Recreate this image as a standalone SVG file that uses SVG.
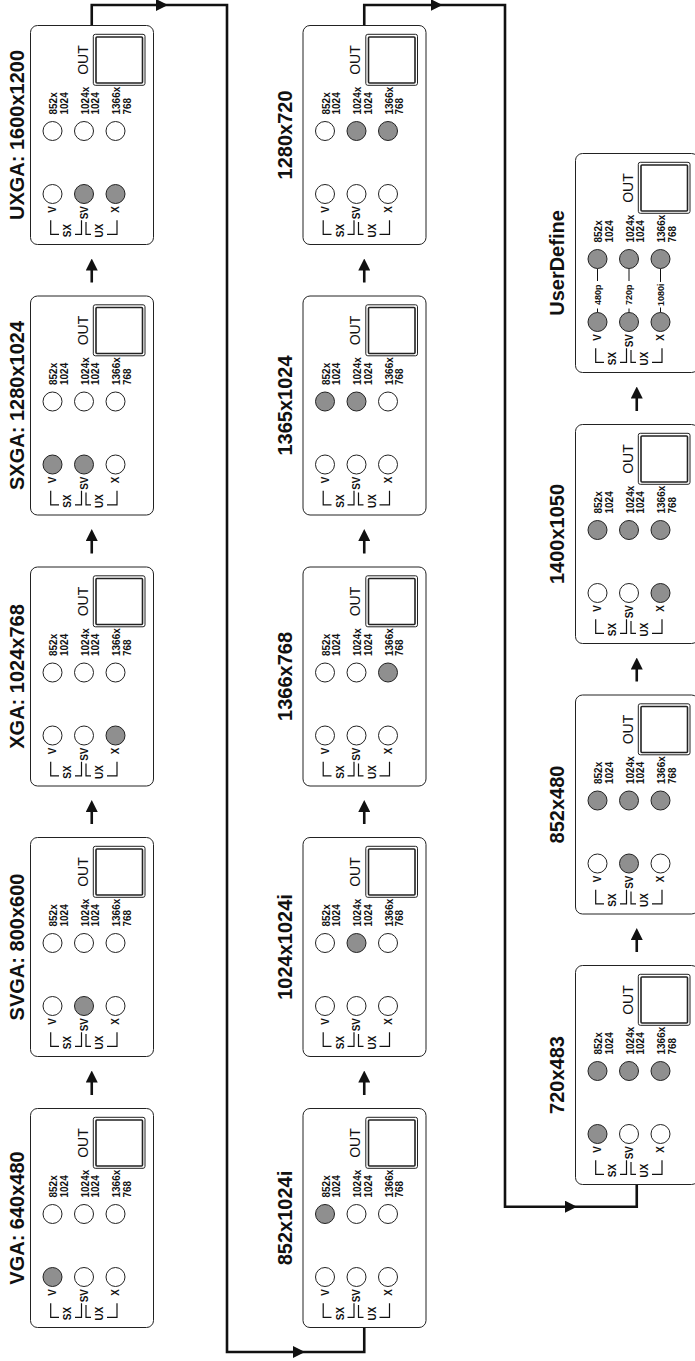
<svg xmlns="http://www.w3.org/2000/svg" width="695" height="1361" viewBox="0 0 695 1361">
<style>
text{font-family:"Liberation Sans",Arial,sans-serif;fill:#111}
.title{font-size:20px;font-weight:bold;text-anchor:middle}
.res{font-size:10px;font-weight:bold}
.in{font-size:10px;font-weight:bold;text-anchor:end}
.grp{font-size:10px;font-weight:bold;text-anchor:middle}
.ud{font-size:9px;font-weight:bold;text-anchor:middle}
.out{font-size:14px;text-anchor:middle}
.box{fill:#fff;stroke:#222;stroke-width:1}
.oo{fill:none;stroke:#222;stroke-width:1}
.oi{fill:#fff;stroke:#222;stroke-width:1.6}
.br{fill:none;stroke:#111;stroke-width:1.2}
.off{fill:#fff;stroke:#222;stroke-width:1}
.on{fill:#8f8f8f;stroke:#222;stroke-width:1}
.ln{fill:none;stroke:#111;stroke-width:1}
.con{fill:none;stroke:#111;stroke-width:2.6}
</style>
<defs>
<marker id="ah" viewBox="0 0 12 12" refX="2" refY="6" markerWidth="12" markerHeight="12" markerUnits="userSpaceOnUse" orient="auto">
<path d="M0,0 L12,6 L0,12 z" fill="#111"/>
</marker>
<g id="panel">
<rect class="box" x="0.5" y="0.5" width="123" height="219" rx="7"/>
<rect class="oo" x="63.3" y="9.3" width="51.7" height="51" rx="2"/>
<rect class="oi" x="66" y="12" width="46.5" height="46" rx="1"/>
<text class="out" transform="translate(57.5,35) rotate(-90)">OUT</text>
<text class="res" transform="translate(27,89.5) rotate(-90)">852x</text>
<text class="res" transform="translate(37.5,89.5) rotate(-90)">1024</text>
<text class="res" transform="translate(58.5,89.5) rotate(-90)">1024x</text>
<text class="res" transform="translate(69,89.5) rotate(-90)">1024</text>
<text class="res" transform="translate(90,89.5) rotate(-90)">1366x</text>
<text class="res" transform="translate(100.5,89.5) rotate(-90)">768</text>
<text class="in" transform="translate(26,181) rotate(-90)">V</text>
<text class="in" transform="translate(57.5,181) rotate(-90)">SV</text>
<text class="in" transform="translate(89,181) rotate(-90)">X</text>
<text class="grp" transform="translate(41,205.5) rotate(-90)">SX</text>
<text class="grp" transform="translate(73,205.5) rotate(-90)">UX</text>
<path class="br" d="M20.7,195.3 V209.3 H29 M45,209.3 H51.5 V195.3 M56,197 V209.3 H61 M77,209.3 H87 V195.3"/>
</g>
</defs>
<rect x="0" y="0" width="695" height="1361" fill="#fff"/>

<g id="connectors">
<path class="con" d="M91.75,25 V5 H158" marker-end="url(#ah)"/>
<path class="con" d="M158,5 H227 V1352 H295" marker-end="url(#ah)"/>
<path class="con" d="M295,1352 H364.25 V1327.5"/>
<path class="con" d="M364.25,25 V5 H432.5" marker-end="url(#ah)"/>
<path class="con" d="M432.5,5 H505 V1206.7 H567" marker-end="url(#ah)"/>
<path class="con" d="M567,1206.7 H636.75 V1184.5"/>
<path class="con" d="M91.75,282.5 V268.5" marker-end="url(#ah)"/>
<path class="con" d="M91.75,553.5 V539" marker-end="url(#ah)"/>
<path class="con" d="M91.75,824 V810" marker-end="url(#ah)"/>
<path class="con" d="M91.75,1095 V1080.5" marker-end="url(#ah)"/>
<path class="con" d="M364.25,282.5 V268.5" marker-end="url(#ah)"/>
<path class="con" d="M364.25,553.5 V539" marker-end="url(#ah)"/>
<path class="con" d="M364.25,824 V810" marker-end="url(#ah)"/>
<path class="con" d="M364.25,1095 V1080.5" marker-end="url(#ah)"/>
<path class="con" d="M636.75,411 V396.5" marker-end="url(#ah)"/>
<path class="con" d="M636.75,681.5 V667.5" marker-end="url(#ah)"/>
<path class="con" d="M636.75,952 V938" marker-end="url(#ah)"/>
</g>

<g id="uxga" transform="translate(30,25)">
<text class="title" transform="translate(-6,110) rotate(-90)">UXGA: 1600x1200</text>
<use href="#panel"/>
<circle class="off" cx="22.5" cy="106" r="9.5"/><circle class="off" cx="54" cy="106" r="9.5"/><circle class="off" cx="85.5" cy="106" r="9.5"/>
<circle class="off" cx="22.5" cy="169" r="9.5"/><circle class="on" cx="54" cy="169" r="9.5"/><circle class="on" cx="85.5" cy="169" r="9.5"/>
</g>
<g id="sxga" transform="translate(30,295.5)">
<text class="title" transform="translate(-6,110) rotate(-90)">SXGA: 1280x1024</text>
<use href="#panel"/>
<circle class="off" cx="22.5" cy="106" r="9.5"/><circle class="off" cx="54" cy="106" r="9.5"/><circle class="off" cx="85.5" cy="106" r="9.5"/>
<circle class="on" cx="22.5" cy="169" r="9.5"/><circle class="on" cx="54" cy="169" r="9.5"/><circle class="off" cx="85.5" cy="169" r="9.5"/>
</g>
<g id="xga" transform="translate(30,566.5)">
<text class="title" transform="translate(-6,110) rotate(-90)">XGA: 1024x768</text>
<use href="#panel"/>
<circle class="off" cx="22.5" cy="106" r="9.5"/><circle class="off" cx="54" cy="106" r="9.5"/><circle class="off" cx="85.5" cy="106" r="9.5"/>
<circle class="off" cx="22.5" cy="169" r="9.5"/><circle class="off" cx="54" cy="169" r="9.5"/><circle class="on" cx="85.5" cy="169" r="9.5"/>
</g>
<g id="svga" transform="translate(30,837)">
<text class="title" transform="translate(-6,110) rotate(-90)">SVGA: 800x600</text>
<use href="#panel"/>
<circle class="off" cx="22.5" cy="106" r="9.5"/><circle class="off" cx="54" cy="106" r="9.5"/><circle class="off" cx="85.5" cy="106" r="9.5"/>
<circle class="off" cx="22.5" cy="169" r="9.5"/><circle class="on" cx="54" cy="169" r="9.5"/><circle class="off" cx="85.5" cy="169" r="9.5"/>
</g>
<g id="vga" transform="translate(30,1108)">
<text class="title" transform="translate(-6,110) rotate(-90)">VGA: 640x480</text>
<use href="#panel"/>
<circle class="off" cx="22.5" cy="106" r="9.5"/><circle class="off" cx="54" cy="106" r="9.5"/><circle class="off" cx="85.5" cy="106" r="9.5"/>
<circle class="on" cx="22.5" cy="169" r="9.5"/><circle class="off" cx="54" cy="169" r="9.5"/><circle class="off" cx="85.5" cy="169" r="9.5"/>
</g>

<g id="r1280x720" transform="translate(302.5,25)">
<text class="title" transform="translate(-10.5,110) rotate(-90)">1280x720</text>
<use href="#panel"/>
<circle class="off" cx="22.5" cy="106" r="9.5"/><circle class="on" cx="54" cy="106" r="9.5"/><circle class="on" cx="85.5" cy="106" r="9.5"/>
<circle class="off" cx="22.5" cy="169" r="9.5"/><circle class="off" cx="54" cy="169" r="9.5"/><circle class="off" cx="85.5" cy="169" r="9.5"/>
</g>
<g id="r1365x1024" transform="translate(302.5,295.5)">
<text class="title" transform="translate(-10.5,110) rotate(-90)">1365x1024</text>
<use href="#panel"/>
<circle class="on" cx="22.5" cy="106" r="9.5"/><circle class="on" cx="54" cy="106" r="9.5"/><circle class="off" cx="85.5" cy="106" r="9.5"/>
<circle class="off" cx="22.5" cy="169" r="9.5"/><circle class="off" cx="54" cy="169" r="9.5"/><circle class="off" cx="85.5" cy="169" r="9.5"/>
</g>
<g id="r1366x768" transform="translate(302.5,566.5)">
<text class="title" transform="translate(-10.5,110) rotate(-90)">1366x768</text>
<use href="#panel"/>
<circle class="off" cx="22.5" cy="106" r="9.5"/><circle class="off" cx="54" cy="106" r="9.5"/><circle class="on" cx="85.5" cy="106" r="9.5"/>
<circle class="off" cx="22.5" cy="169" r="9.5"/><circle class="off" cx="54" cy="169" r="9.5"/><circle class="off" cx="85.5" cy="169" r="9.5"/>
</g>
<g id="r1024x1024i" transform="translate(302.5,837)">
<text class="title" transform="translate(-10.5,110) rotate(-90)">1024x1024i</text>
<use href="#panel"/>
<circle class="off" cx="22.5" cy="106" r="9.5"/><circle class="on" cx="54" cy="106" r="9.5"/><circle class="off" cx="85.5" cy="106" r="9.5"/>
<circle class="off" cx="22.5" cy="169" r="9.5"/><circle class="off" cx="54" cy="169" r="9.5"/><circle class="off" cx="85.5" cy="169" r="9.5"/>
</g>
<g id="r852x1024i" transform="translate(302.5,1108)">
<text class="title" transform="translate(-10.5,110) rotate(-90)">852x1024i</text>
<use href="#panel"/>
<circle class="on" cx="22.5" cy="106" r="9.5"/><circle class="off" cx="54" cy="106" r="9.5"/><circle class="off" cx="85.5" cy="106" r="9.5"/>
<circle class="off" cx="22.5" cy="169" r="9.5"/><circle class="off" cx="54" cy="169" r="9.5"/><circle class="off" cx="85.5" cy="169" r="9.5"/>
</g>

<g id="userdefine" transform="translate(575,153)">
<text class="title" transform="translate(-11,110) rotate(-90)">UserDefine</text>
<use href="#panel"/>
<path class="ln" d="M22.5,115.5 V128 M22.5,155.5 V159.5 M54,115.5 V128 M54,155.5 V159.5 M85.5,115.5 V129 M85.5,154.5 V159.5"/>
<text class="ud" transform="translate(25.7,141.7) rotate(-90)">480p</text>
<text class="ud" transform="translate(57.2,141.7) rotate(-90)">720p</text>
<text class="ud" transform="translate(88.7,141.7) rotate(-90)">1080i</text>
<circle class="on" cx="22.5" cy="106" r="9.5"/><circle class="on" cx="54" cy="106" r="9.5"/><circle class="on" cx="85.5" cy="106" r="9.5"/>
<circle class="on" cx="22.5" cy="169" r="9.5"/><circle class="on" cx="54" cy="169" r="9.5"/><circle class="on" cx="85.5" cy="169" r="9.5"/>
</g>
<g id="r1400x1050" transform="translate(575,424)">
<text class="title" transform="translate(-11,110) rotate(-90)">1400x1050</text>
<use href="#panel"/>
<circle class="on" cx="22.5" cy="106" r="9.5"/><circle class="on" cx="54" cy="106" r="9.5"/><circle class="on" cx="85.5" cy="106" r="9.5"/>
<circle class="off" cx="22.5" cy="169" r="9.5"/><circle class="off" cx="54" cy="169" r="9.5"/><circle class="on" cx="85.5" cy="169" r="9.5"/>
</g>
<g id="r852x480" transform="translate(575,694.5)">
<text class="title" transform="translate(-11,110) rotate(-90)">852x480</text>
<use href="#panel"/>
<circle class="on" cx="22.5" cy="106" r="9.5"/><circle class="on" cx="54" cy="106" r="9.5"/><circle class="on" cx="85.5" cy="106" r="9.5"/>
<circle class="off" cx="22.5" cy="169" r="9.5"/><circle class="on" cx="54" cy="169" r="9.5"/><circle class="off" cx="85.5" cy="169" r="9.5"/>
</g>
<g id="r720x483" transform="translate(575,965)">
<text class="title" transform="translate(-11,110) rotate(-90)">720x483</text>
<use href="#panel"/>
<circle class="on" cx="22.5" cy="106" r="9.5"/><circle class="on" cx="54" cy="106" r="9.5"/><circle class="on" cx="85.5" cy="106" r="9.5"/>
<circle class="on" cx="22.5" cy="169" r="9.5"/><circle class="off" cx="54" cy="169" r="9.5"/><circle class="off" cx="85.5" cy="169" r="9.5"/>
</g>
</svg>
